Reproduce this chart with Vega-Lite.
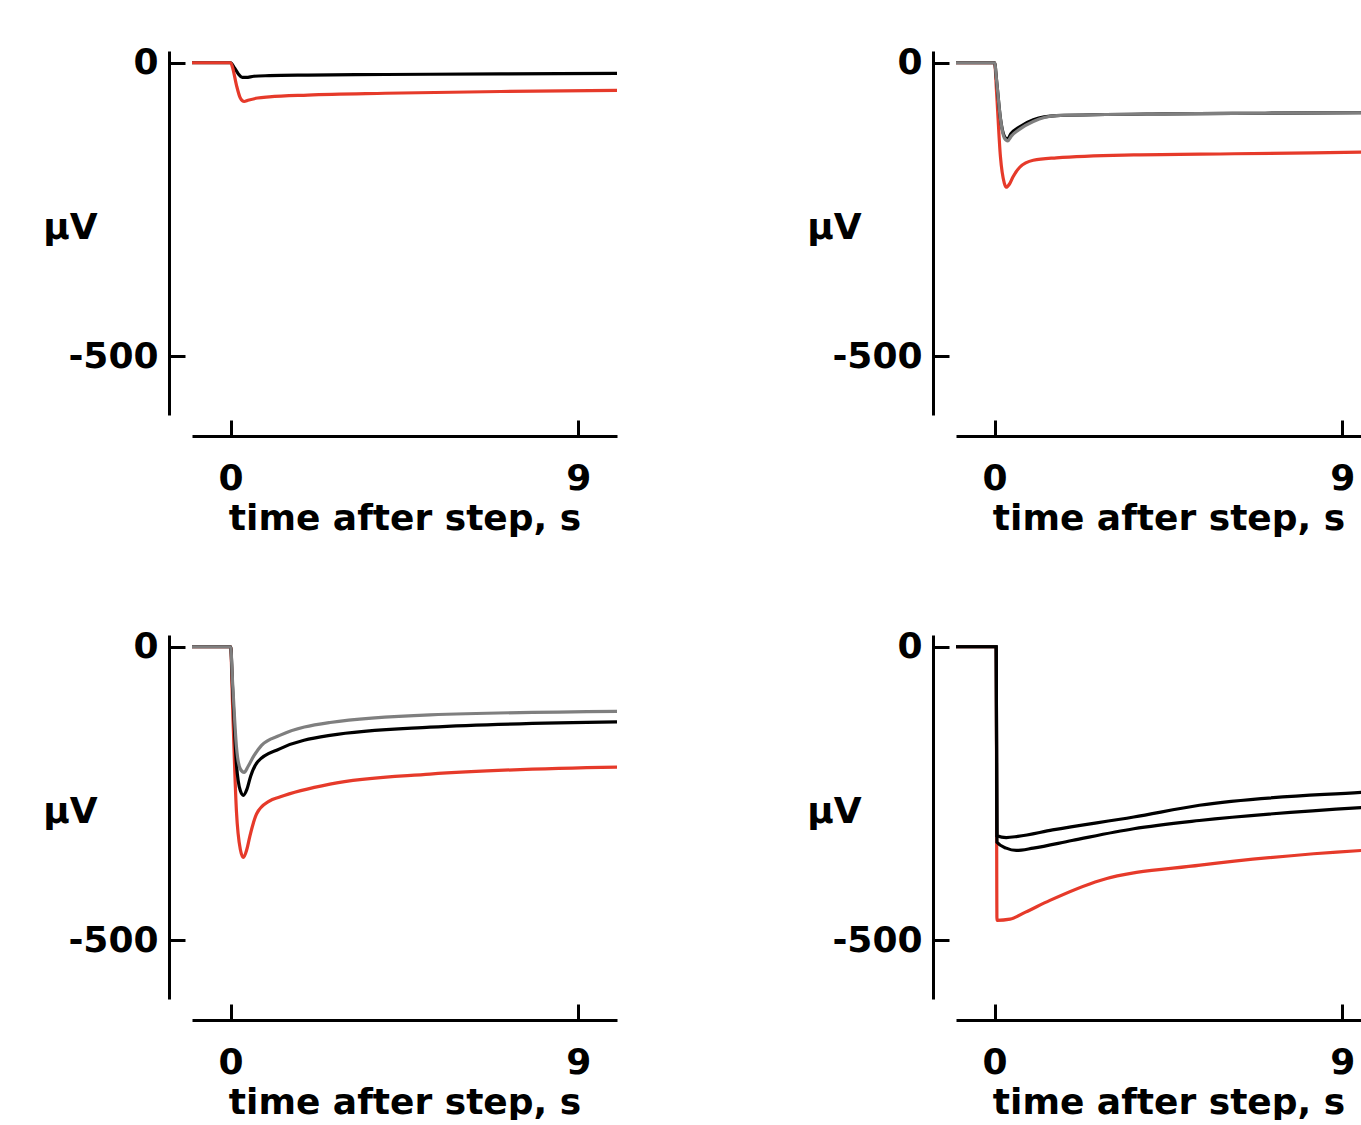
{
  "$schema": "https://vega.github.io/schema/vega-lite/v6.json",
  "padding": {"left": 42, "top": 44, "right": 0, "bottom": 0},
  "background": "white",
  "datasets": {"traces": [
    {"panel":"A","s":"black","t":-1,"v":0},{"panel":"A","s":"black","t":0,"v":0},{"panel":"A","s":"black","t":0.1,"v":-9},{"panel":"A","s":"black","t":0.2,"v":-19},{"panel":"A","s":"black","t":0.3,"v":-25},{"panel":"A","s":"black","t":0.4,"v":-25},{"panel":"A","s":"black","t":0.6,"v":-23},{"panel":"A","s":"black","t":1,"v":-22},{"panel":"A","s":"black","t":2,"v":-21},{"panel":"A","s":"black","t":4,"v":-20},{"panel":"A","s":"black","t":7,"v":-19},{"panel":"A","s":"black","t":10,"v":-18},
    {"panel":"A","s":"red","t":-1,"v":0},{"panel":"A","s":"red","t":0,"v":0},{"panel":"A","s":"red","t":0.05,"v":-8},{"panel":"A","s":"red","t":0.15,"v":-38},{"panel":"A","s":"red","t":0.25,"v":-60},{"panel":"A","s":"red","t":0.35,"v":-66},{"panel":"A","s":"red","t":0.45,"v":-64},{"panel":"A","s":"red","t":0.7,"v":-60},{"panel":"A","s":"red","t":1,"v":-58},{"panel":"A","s":"red","t":2,"v":-55},{"panel":"A","s":"red","t":4,"v":-52},{"panel":"A","s":"red","t":7,"v":-49},{"panel":"A","s":"red","t":10,"v":-47},

    {"panel":"B","s":"red","t":-1,"v":0},{"panel":"B","s":"red","t":0,"v":0},{"panel":"B","s":"red","t":0.05,"v":-50},{"panel":"B","s":"red","t":0.15,"v":-160},{"panel":"B","s":"red","t":0.25,"v":-205},{"panel":"B","s":"red","t":0.3,"v":-212},{"panel":"B","s":"red","t":0.38,"v":-207},{"panel":"B","s":"red","t":0.47,"v":-195},{"panel":"B","s":"red","t":0.65,"v":-178},{"panel":"B","s":"red","t":1,"v":-166},{"panel":"B","s":"red","t":1.6,"v":-162},{"panel":"B","s":"red","t":3.6,"v":-157},{"panel":"B","s":"red","t":6.2,"v":-155},{"panel":"B","s":"red","t":10,"v":-152},
    {"panel":"B","s":"black","t":-1,"v":0},{"panel":"B","s":"black","t":0,"v":0},{"panel":"B","s":"black","t":0.05,"v":-30},{"panel":"B","s":"black","t":0.15,"v":-95},{"panel":"B","s":"black","t":0.25,"v":-125},{"panel":"B","s":"black","t":0.33,"v":-130},{"panel":"B","s":"black","t":0.42,"v":-121},{"panel":"B","s":"black","t":0.65,"v":-109},{"panel":"B","s":"black","t":1,"v":-97},{"panel":"B","s":"black","t":1.6,"v":-90},{"panel":"B","s":"black","t":4.4,"v":-87},{"panel":"B","s":"black","t":7,"v":-86},{"panel":"B","s":"black","t":10,"v":-85},
    {"panel":"B","s":"gray","t":-1,"v":0},{"panel":"B","s":"gray","t":0,"v":0},{"panel":"B","s":"gray","t":0.05,"v":-30},{"panel":"B","s":"gray","t":0.15,"v":-95},{"panel":"B","s":"gray","t":0.25,"v":-128},{"panel":"B","s":"gray","t":0.34,"v":-133},{"panel":"B","s":"gray","t":0.43,"v":-125},{"panel":"B","s":"gray","t":0.65,"v":-113},{"panel":"B","s":"gray","t":1,"v":-100},{"panel":"B","s":"gray","t":1.6,"v":-90},{"panel":"B","s":"gray","t":4.4,"v":-87},{"panel":"B","s":"gray","t":7,"v":-86},{"panel":"B","s":"gray","t":10,"v":-85},

    {"panel":"C","s":"red","t":-1,"v":0},{"panel":"C","s":"red","t":0,"v":0},{"panel":"C","s":"red","t":0.05,"v":-100},{"panel":"C","s":"red","t":0.15,"v":-280},{"panel":"C","s":"red","t":0.25,"v":-345},{"panel":"C","s":"red","t":0.33,"v":-359},{"panel":"C","s":"red","t":0.42,"v":-345},{"panel":"C","s":"red","t":0.5,"v":-322},{"panel":"C","s":"red","t":0.67,"v":-285},{"panel":"C","s":"red","t":1,"v":-263},{"panel":"C","s":"red","t":1.27,"v":-256},{"panel":"C","s":"red","t":2.57,"v":-234},{"panel":"C","s":"red","t":5.16,"v":-217},{"panel":"C","s":"red","t":10,"v":-205},
    {"panel":"C","s":"black","t":-1,"v":0},{"panel":"C","s":"black","t":0,"v":0},{"panel":"C","s":"black","t":0.05,"v":-70},{"panel":"C","s":"black","t":0.15,"v":-200},{"panel":"C","s":"black","t":0.25,"v":-245},{"panel":"C","s":"black","t":0.33,"v":-253},{"panel":"C","s":"black","t":0.42,"v":-243},{"panel":"C","s":"black","t":0.52,"v":-220},{"panel":"C","s":"black","t":0.7,"v":-196},{"panel":"C","s":"black","t":1.27,"v":-174},{"panel":"C","s":"black","t":2.57,"v":-151},{"panel":"C","s":"black","t":5.16,"v":-137},{"panel":"C","s":"black","t":10,"v":-128},
    {"panel":"C","s":"gray","t":-1,"v":0},{"panel":"C","s":"gray","t":0,"v":0},{"panel":"C","s":"gray","t":0.05,"v":-60},{"panel":"C","s":"gray","t":0.15,"v":-170},{"panel":"C","s":"gray","t":0.25,"v":-208},{"panel":"C","s":"gray","t":0.35,"v":-214},{"panel":"C","s":"gray","t":0.45,"v":-204},{"panel":"C","s":"gray","t":0.6,"v":-186},{"panel":"C","s":"gray","t":0.8,"v":-168},{"panel":"C","s":"gray","t":1.27,"v":-151},{"panel":"C","s":"gray","t":2.57,"v":-129},{"panel":"C","s":"gray","t":5.16,"v":-116},{"panel":"C","s":"gray","t":10,"v":-110},

    {"panel":"D","s":"red","t":-1,"v":0},{"panel":"D","s":"red","t":0.04,"v":0},{"panel":"D","s":"red","t":0.06,"v":-466},{"panel":"D","s":"red","t":0.4,"v":-464},{"panel":"D","s":"red","t":0.8,"v":-452},{"panel":"D","s":"red","t":1.43,"v":-432},{"panel":"D","s":"red","t":2.73,"v":-398},{"panel":"D","s":"red","t":5.32,"v":-372},{"panel":"D","s":"red","t":9.5,"v":-347},{"panel":"D","s":"red","t":10,"v":-345},
    {"panel":"D","s":"black2","t":-1,"v":0},{"panel":"D","s":"black2","t":0.04,"v":0},{"panel":"D","s":"black2","t":0.06,"v":-333},{"panel":"D","s":"black2","t":0.3,"v":-343},{"panel":"D","s":"black2","t":0.56,"v":-347},{"panel":"D","s":"black2","t":1,"v":-343},{"panel":"D","s":"black2","t":2,"v":-330},{"panel":"D","s":"black2","t":3.6,"v":-310},{"panel":"D","s":"black2","t":5.3,"v":-296},{"panel":"D","s":"black2","t":9.5,"v":-274},{"panel":"D","s":"black2","t":10,"v":-272},
    {"panel":"D","s":"black","t":-1,"v":0},{"panel":"D","s":"black","t":0.04,"v":0},{"panel":"D","s":"black","t":0.06,"v":-322},{"panel":"D","s":"black","t":0.3,"v":-325},{"panel":"D","s":"black","t":0.6,"v":-323},{"panel":"D","s":"black","t":1.5,"v":-312},{"panel":"D","s":"black","t":3.6,"v":-290},{"panel":"D","s":"black","t":5.3,"v":-270},{"panel":"D","s":"black","t":9.5,"v":-248},{"panel":"D","s":"black","t":10,"v":-246}
  ]},
  "data": {"name": "traces"},
  "columns": 2,
  "spacing": {"row": 220, "column": 339},
  "bounds": "flush",
  "concat": [
    {
      "transform": [{"filter": "datum.panel === 'A'"}],
      "width": 425, "height": 364,
      "mark": {"type": "line", "strokeWidth": 3.2, "interpolate": "monotone"},
      "encoding": {
        "x": {"field": "t", "type": "quantitative", "scale": {"domain": [-1, 10], "nice": false, "zero": false},
          "axis": {"values": [0, 9], "offset": 21, "tickSize": -16, "labelPadding": 41, "title": "time after step, s", "titlePadding": 5, "labelExpr": "toString(datum.value)"}},
        "y": {"field": "v", "type": "quantitative", "scale": {"domain": [-600, 20], "nice": false, "zero": false},
          "axis": {"values": [0, -500], "offset": 23, "tickSize": -16, "labelPadding": 27, "title": "µV", "titleAngle": 0, "titleAlign": "right", "titleBaseline": "alphabetic", "titleX": -72, "titleY": 187, "labelExpr": "toString(datum.value)"}},
        "color": {"field": "s", "type": "nominal", "scale": {"domain": ["black", "red", "gray", "black2"], "range": ["#000000", "#e63a2a", "#7f7f7f", "#000000"]}, "legend": null}
      }
    },
    {
      "transform": [{"filter": "datum.panel === 'B'"}],
      "width": 425, "height": 364,
      "mark": {"type": "line", "strokeWidth": 3.2, "interpolate": "monotone"},
      "encoding": {
        "x": {"field": "t", "type": "quantitative", "scale": {"domain": [-1, 10], "nice": false, "zero": false},
          "axis": {"values": [0, 9], "offset": 21, "tickSize": -16, "labelPadding": 41, "title": "time after step, s", "titlePadding": 5, "labelExpr": "toString(datum.value)"}},
        "y": {"field": "v", "type": "quantitative", "scale": {"domain": [-600, 20], "nice": false, "zero": false},
          "axis": {"values": [0, -500], "offset": 23, "tickSize": -16, "labelPadding": 27, "title": "µV", "titleAngle": 0, "titleAlign": "right", "titleBaseline": "alphabetic", "titleX": -72, "titleY": 187, "labelExpr": "toString(datum.value)"}},
        "color": {"field": "s", "type": "nominal", "scale": {"domain": ["black", "red", "gray", "black2"], "range": ["#000000", "#e63a2a", "#7f7f7f", "#000000"]}, "legend": null}
      }
    },
    {
      "transform": [{"filter": "datum.panel === 'C'"}],
      "width": 425, "height": 364,
      "mark": {"type": "line", "strokeWidth": 3.2, "interpolate": "monotone"},
      "encoding": {
        "x": {"field": "t", "type": "quantitative", "scale": {"domain": [-1, 10], "nice": false, "zero": false},
          "axis": {"values": [0, 9], "offset": 21, "tickSize": -16, "labelPadding": 41, "title": "time after step, s", "titlePadding": 5, "labelExpr": "toString(datum.value)"}},
        "y": {"field": "v", "type": "quantitative", "scale": {"domain": [-600, 20], "nice": false, "zero": false},
          "axis": {"values": [0, -500], "offset": 23, "tickSize": -16, "labelPadding": 27, "title": "µV", "titleAngle": 0, "titleAlign": "right", "titleBaseline": "alphabetic", "titleX": -72, "titleY": 187, "labelExpr": "toString(datum.value)"}},
        "color": {"field": "s", "type": "nominal", "scale": {"domain": ["black", "red", "gray", "black2"], "range": ["#000000", "#e63a2a", "#7f7f7f", "#000000"]}, "legend": null}
      }
    },
    {
      "transform": [{"filter": "datum.panel === 'D'"}],
      "width": 425, "height": 364,
      "mark": {"type": "line", "strokeWidth": 3.2, "interpolate": "monotone"},
      "encoding": {
        "x": {"field": "t", "type": "quantitative", "scale": {"domain": [-1, 10], "nice": false, "zero": false},
          "axis": {"values": [0, 9], "offset": 21, "tickSize": -16, "labelPadding": 41, "title": "time after step, s", "titlePadding": 5, "labelExpr": "toString(datum.value)"}},
        "y": {"field": "v", "type": "quantitative", "scale": {"domain": [-600, 20], "nice": false, "zero": false},
          "axis": {"values": [0, -500], "offset": 23, "tickSize": -16, "labelPadding": 27, "title": "µV", "titleAngle": 0, "titleAlign": "right", "titleBaseline": "alphabetic", "titleX": -72, "titleY": 187, "labelExpr": "toString(datum.value)"}},
        "color": {"field": "s", "type": "nominal", "scale": {"domain": ["black", "red", "gray", "black2"], "range": ["#000000", "#e63a2a", "#7f7f7f", "#000000"]}, "legend": null}
      }
    }
  ],
  "resolve": {"scale": {"x": "independent", "y": "independent"}, "axis": {"x": "independent", "y": "independent"}},
  "config": {
    "view": {"stroke": null},
    "axis": {
      "grid": false,
      "domainColor": "#000000", "domainWidth": 3,
      "tickColor": "#000000", "tickWidth": 3,
      "labelFont": "DejaVu Sans", "labelFontWeight": "bold", "labelFontSize": 36, "labelColor": "#000000",
      "titleFont": "DejaVu Sans", "titleFontWeight": "bold", "titleFontSize": 36, "titleColor": "#000000"
    }
  }
}
